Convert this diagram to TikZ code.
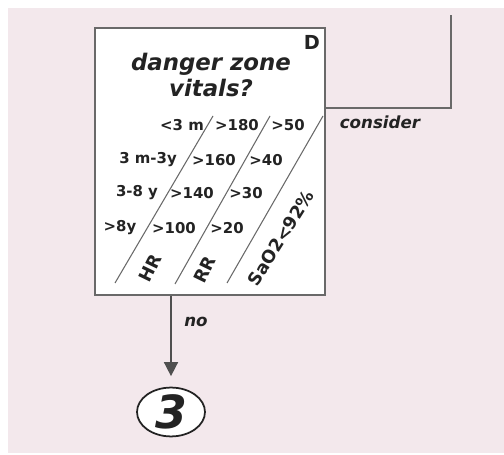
\documentclass[tikz,border=0pt]{standalone}
\usepackage{fontspec}
\setmainfont{DejaVu Sans}
\usetikzlibrary{arrows.meta,positioning,shapes.geometric,calc}
\definecolor{bgpink}{RGB}{243,232,236}
\definecolor{flowgray}{RGB}{105,105,105}
\definecolor{inkdark}{RGB}{35,35,35}

\begin{document}
\begin{tikzpicture}[
    x=0.02cm, y=-0.02cm,
    font=\bfseries, text=inkdark,
    decbox/.style={
      draw=flowgray, line width=0.9pt, fill=white,
      minimum width=4.6cm, minimum height=5.34cm, inner sep=0pt
    },
    flow/.style={draw=flowgray, line width=0.9pt},
    divider/.style={draw=flowgray, line width=0.6pt},
    cell/.style={font=\fontsize{8.5}{10}\selectfont\bfseries, inner sep=0pt},
    vital/.style={font=\fontsize{10}{11}\selectfont\bfseries, inner sep=0pt},
    lbl/.style={font=\fontsize{9.5}{11}\selectfont\bfseries\itshape, inner sep=0pt},
    exitcircle/.style={
      ellipse, draw=inkdark, line width=1pt, fill=white,
      minimum width=1.36cm, minimum height=0.92cm, inner sep=0pt,
      font=\fontsize{26}{28}\selectfont\bfseries\itshape
    }
  ]
    % Background and page margins
    \useasboundingbox (0,0) rectangle (504,455);
    \fill[white] (0,0) rectangle (504,455);
    \fill[bgpink] (8,8) rectangle (504,453);

    % Decision box D
    \node[decbox] at (210,161.5) (dzbox) {};
    \node[font=\fontsize{11}{12}\selectfont\bfseries, inner sep=0pt]
      at (312,42) (dzletter) {D};
    \node[font=\fontsize{13}{15}\selectfont\bfseries\itshape, align=center,
      inner sep=0pt] at (211,75) (dztitle) {danger zone\\vitals?};

    % Table dividers
    \draw[divider] (115,283) -- (213,116);
    \draw[divider] (175,284) -- (270,116);
    \draw[divider] (227,283) -- (323,116);

    % Age rows
    \node[cell] at (182,125) (age1) {<3 m};
    \node[cell] at (237,125) (hr1) {>180};
    \node[cell] at (288,125) (rr1) {>50};
    \node[cell] at (148,160) (age2) {3 m-3y};
    \node[cell] at (214,160) (hr2) {>160};
    \node[cell] at (266,160) (rr2) {>40};
    \node[cell] at (137,193) (age3) {3-8 y};
    \node[cell] at (192,193) (hr3) {>140};
    \node[cell] at (246,193) (rr3) {>30};
    \node[cell] at (120,228) (age4) {>8y};
    \node[cell] at (174,228) (hr4) {>100};
    \node[cell] at (227,228) (rr4) {>20};

    % Column headings along the dividers
    \node[vital, rotate=64] at (150,268) (hrlbl) {HR};
    \node[vital, rotate=64] at (205,270) (rrlbl) {RR};
    \node[vital, rotate=58] at (281,238) (satlbl) {SaO2<92\%};

    % Exit 3
    \node[exitcircle] at (171,412) (exit3) {3};

    % Connectors
    \coordinate (backtop) at (451,15);
    \draw[flow] (dzbox.east |- 0,108) -- (backtop |- 0,108) -- (backtop);
    \node[lbl] at (380,122) (considerlbl) {consider};
    \draw[flow, draw=inkdark!80, -{Triangle[length=8pt,width=8pt]}, shorten >=6pt]
      (exit3 |- dzbox.south) -- (exit3.north);
    \node[lbl] at (196,322) (nolbl) {no};
\end{tikzpicture}
\end{document}
